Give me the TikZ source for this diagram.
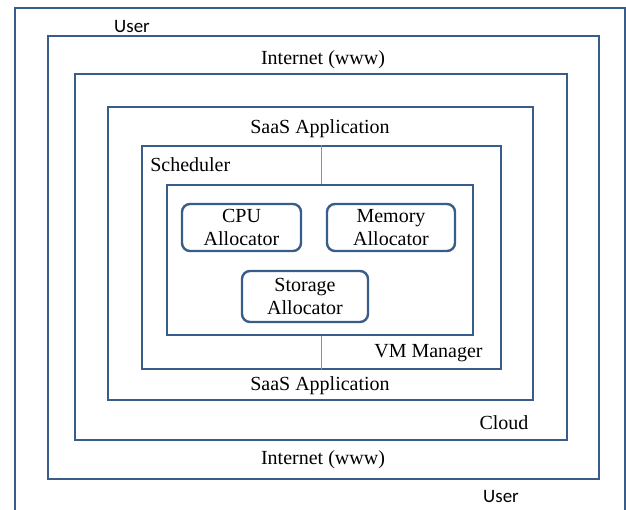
\documentclass[tikz,border=0pt]{standalone}
\usepackage{fontspec}
\setmainfont{Liberation Serif}
\newfontfamily\userfont{Carlito}
\usepackage{tikz}
\usetikzlibrary{positioning}
\definecolor{myslateblue}{RGB}{56,93,138}
\definecolor{mylightblue}{RGB}{110,150,200}
\tikzstyle{layerbox}=[draw=myslateblue,line width=1.8pt,rectangle,inner sep=0pt]
\tikzstyle{allocbox}=[draw=myslateblue,line width=1.8pt,rounded corners=6pt,align=center,inner sep=0pt,font=\fontsize{15}{17.5}\selectfont]
\tikzstyle{divider}=[draw=mylightblue,line width=0.9pt]
\tikzstyle{label}=[inner sep=0pt,font=\fontsize{15}{17}\selectfont]
\tikzstyle{userlabel}=[inner sep=0pt,font=\userfont\fontsize{14.2}{17}\selectfont]

\begin{document}
\begin{tikzpicture}[x=0.75pt,y=-0.75pt]
\useasboundingbox (0,0) rectangle (626,510);

% user area runs off the bottom of the page
\draw[myslateblue,line width=1.8pt] (15,510) -- (15,8) -- (625,8) -- (625,510);

\node [layerbox, minimum width=413.25pt, minimum height=332.25pt] (internet) at (323.5,257.5) {};
\node [layerbox, minimum width=369pt, minimum height=274.5pt] (cloud) at (321,257) {};
\node [layerbox, minimum width=318.75pt, minimum height=219.75pt] (saas) at (320.5,253.5) {};
\node [layerbox, minimum width=269.25pt, minimum height=167.25pt] (sched) at (321.5,257.5) {};
\node [layerbox, minimum width=229.5pt, minimum height=112.5pt] (vmm) at (320,260) {};

\draw [divider] (sched.north) -- (sched.north |- vmm.north);
\draw [divider] (sched.south) -- (sched.south |- vmm.south);

\node [allocbox, minimum width=89.25pt, minimum height=35.25pt] (cpu) at (241.5,227.5) {CPU\\Allocator};
\node [allocbox, minimum width=96pt, minimum height=35.25pt] (mem) at (391,227.5) {Memory\\Allocator};
\node [allocbox, minimum width=94.5pt, minimum height=38.25pt] (stor) at (305,296.5) {Storage\\Allocator};

\node [userlabel] (usertop) at (132,26.5) {User};
\node [label] (nettop) at (323,60) {Internet (www)};
\node [label] (saastop) at (320,128.5) {SaaS Application};
\node [label, anchor=west] (schedlbl) at (150,165) {Scheduler};
\node [label] (vmmlbl) at (428.5,353) {VM Manager};
\node [label] (saasbot) at (320,386) {SaaS Application};
\node [label] (cloudlbl) at (504,422.5) {Cloud};
\node [label] (netbot) at (323,460) {Internet (www)};
\node [userlabel] (userbot) at (501,496.5) {User};
\end{tikzpicture}
\end{document}
